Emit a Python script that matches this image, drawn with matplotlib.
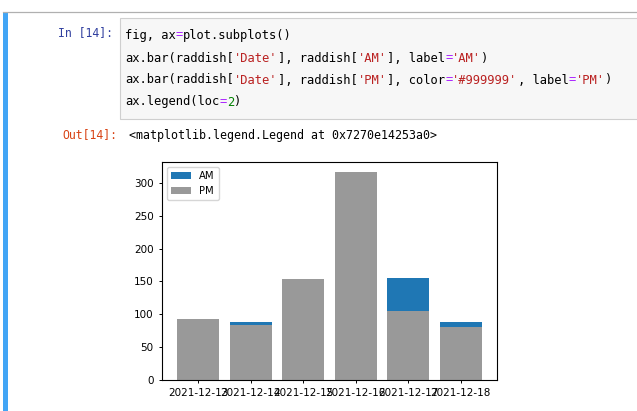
import matplotlib.pyplot as plt
from matplotlib.patches import Rectangle
from matplotlib.lines import Line2D

# data (AM values hidden behind PM bars are estimates)
dates = ['2021-12-13', '2021-12-14', '2021-12-15', '2021-12-16', '2021-12-17', '2021-12-18']
am = [60, 88, 120, 200, 156, 88]
pm = [93, 84, 154, 316, 105, 81]

W, H = 637, 411
fig = plt.figure(figsize=(W / 100, H / 100), dpi=100)


def fx(x):
    return x / W


def fy(y):
    return 1 - y / H


# notebook chrome
fig.add_artist(Rectangle((fx(3), 0), fx(4.5), fy(12.5), facecolor='#42A5F5',
                         edgecolor='none', transform=fig.transFigure))
fig.add_artist(Line2D([fx(3), 1], [fy(12.5), fy(12.5)], color='#b0b0b0', lw=0.9,
                      transform=fig.transFigure))
fig.add_artist(Rectangle((fx(120), fy(119)), 1 - fx(120) + 0.01, 101 / H,
                         facecolor='#f7f7f7', edgecolor='#cfcfcf', lw=0.8,
                         transform=fig.transFigure))

mono = 'DejaVu Sans Mono'
code_size = 8.7
adv = code_size * 100 / 72 * 0.602  # px per char

BLK, OP, STR, NUM = '#000000', '#AA22FF', '#BA2121', '#008000'
code_lines = [
    [("fig, ax", BLK), ("=", OP), ("plot.subplots()", BLK)],
    [("ax.bar(raddish[", BLK), ("'Date'", STR), ("], raddish[", BLK), ("'AM'", STR),
     ("], label", BLK), ("=", OP), ("'AM'", STR), (")", BLK)],
    [("ax.bar(raddish[", BLK), ("'Date'", STR), ("], raddish[", BLK), ("'PM'", STR),
     ("], color", BLK), ("=", OP), ("'#999999'", STR), (", label", BLK), ("=", OP),
     ("'PM'", STR), (")", BLK)],
    [("ax.legend(loc", BLK), ("=", OP), ("2", NUM), (")", BLK)],
]
line_y = [35, 58, 80, 102]
for segs, y in zip(code_lines, line_y):
    col = 0
    for txt, c in segs:
        fig.text(fx(125 + col * adv), fy(y), txt, family=mono, size=code_size,
                 color=c, va='center', ha='left')
        col += len(txt)

fig.text(fx(58), fy(33), "In [14]:", family=mono, size=8.3, color='#303F9F', va='center')
fig.text(fx(62), fy(135), "Out[14]:", family=mono, size=8.3, color='#D84315', va='center')
fig.text(fx(129), fy(135), "<matplotlib.legend.Legend at 0x7270e14253a0>",
         family=mono, size=8.4, color='#000000', va='center')

# the chart itself
ax = fig.add_axes([fx(162), fy(380), (497 - 162) / W, (380 - 162) / H])
ax.bar(dates, am, label='AM')
ax.bar(dates, pm, color='#999999', label='PM')
ax.legend(loc=2, fontsize=7.2)
ax.tick_params(labelsize=7.5, length=2.5, width=0.7)
for s in ax.spines.values():
    s.set_linewidth(0.8)

fig.savefig('out.png', dpi=100)
